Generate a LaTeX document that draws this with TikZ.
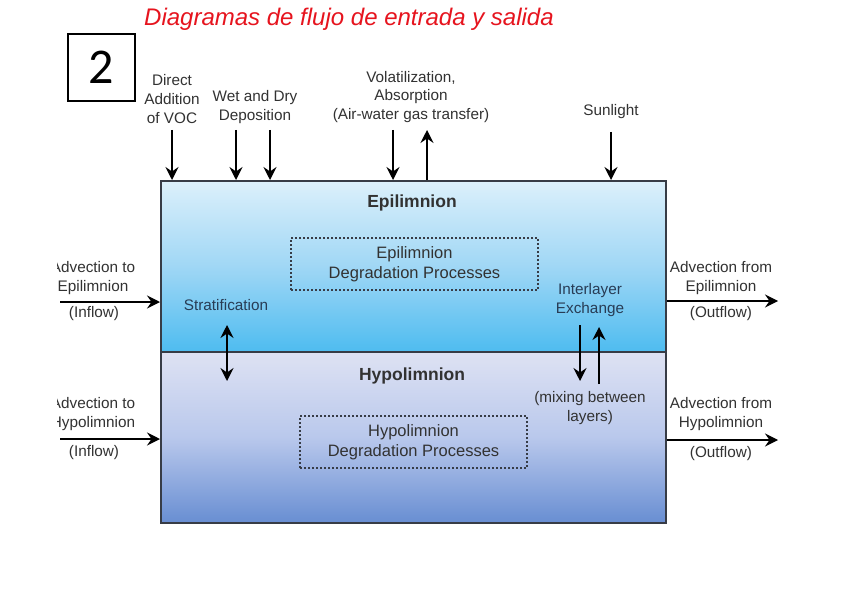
\documentclass[tikz,border=0pt]{standalone}
\usepackage{fontspec}
\setmainfont{Liberation Sans}
\newfontfamily\digitfont{Carlito}
\usetikzlibrary{arrows.meta}
\definecolor{txt}{RGB}{50,50,50}
\definecolor{bluetxt}{RGB}{40,60,85}
\definecolor{hand}{RGB}{230,20,30}
\definecolor{epitop}{RGB}{220,240,251}
\definecolor{epimid}{RGB}{160,215,245}
\definecolor{epibot}{RGB}{78,188,240}
\definecolor{hyptop}{RGB}{222,226,243}
\definecolor{hypmid}{RGB}{185,200,236}
\definecolor{hypbot}{RGB}{104,142,210}
\definecolor{edge}{RGB}{55,60,70}
\begin{document}
\begin{tikzpicture}[x=1pt,y=-1pt,
  lbl/.style={align=center,text=txt,font=\fontsize{15.3}{18.8}\selectfont,inner sep=0pt},
  inlbl/.style={lbl,text=bluetxt},
  ttl/.style={lbl,font=\fontsize{17.5}{20}\selectfont\bfseries},
  tip/.tip={Stealth[length=13pt,width=13pt,inset=4.5pt]},
  arr/.style={draw=black,line width=1.5pt,-tip},
  darr/.style={draw=black,line width=1.5pt,tip-tip},
  layer/.style={draw=edge,line width=1.5pt,inner sep=0pt,minimum width=505pt,anchor=north west},
  degbox/.style={draw=edge,dash pattern=on 2pt off 2pt,line width=1.2pt,align=center,text=txt,
    font=\fontsize{16.5}{20}\selectfont,inner sep=0pt,minimum height=52pt}
]
\useasboundingbox[fill=white] (0,0) rectangle (848,599);

% title and number box
\node[text=hand,font=\fontsize{24}{26}\selectfont\itshape,inner sep=0pt] (title) at (349,19) {Diagramas de flujo de entrada y salida};
\node[draw=black,line width=2.6pt,minimum size=67pt,inner sep=0pt,font=\digitfont\fontsize{50}{52}\selectfont] (num) at (101.5,67.5) {2};

% layers
\node[layer,minimum height=171pt,top color=epitop,bottom color=epibot,middle color=epimid] (epi) at (160,180) {};
\node[layer,minimum height=171pt,top color=hyptop,bottom color=hypbot,middle color=hypmid] (hyp) at (160,351) {};

% top labels
\node[lbl] (voc) at (172,99) {Direct\\Addition\\of VOC};
\node[lbl] (wet) at (255,107) {Wet and Dry\\Deposition};
\node[lbl] (vol) at (411,97) {Volatilization,\\Absorption\\(Air-water gas transfer)};
\node[lbl] (sun) at (611,112) {Sunlight};

% inner labels
\node[ttl] (epit) at (412,203) {Epilimnion};
\node[ttl] (hypt) at (412,376) {Hypolimnion};
\node[degbox,minimum width=247pt] (epideg) at (414.5,264) {Epilimnion\\Degradation Processes};
\node[degbox,minimum width=227pt] (hypdeg) at (413.5,442) {Hypolimnion\\Degradation Processes};
\node[inlbl] (strat) at (226,305) {Stratification};
\node[inlbl] (inter) at (590,300) {Interlayer\\Exchange};
\node[lbl] (mix) at (590,408) {(mixing between\\layers)};

% side labels
\begin{scope}
\clip (57,0) rectangle (848,599);
\node[lbl] (ein) at (93,278) {Advection to\\Epilimnion};
\node[lbl] (hin) at (93,414) {Advection to\\Hypolimnion};
\end{scope}
\node[lbl] (einf) at (94,314) {(Inflow)};
\node[lbl] (hinf) at (94,453) {(Inflow)};
\node[lbl] (eout) at (721,278) {Advection from\\Epilimnion};
\node[lbl] (eoutf) at (721,314) {(Outflow)};
\node[lbl] (hout) at (721,414) {Advection from\\Hypolimnion};
\node[lbl] (houtf) at (721,454) {(Outflow)};

% coordinates for free ends
\coordinate (t1) at (172,130);
\coordinate (t2) at (236,130);
\coordinate (t3) at (270,130);
\coordinate (t4) at (393,130);
\coordinate (t5) at (427,130);
\coordinate (t6) at (611,132);
\coordinate (inE) at (60,302);
\coordinate (inH) at (60,439);
\coordinate (outE) at (778,301);
\coordinate (outH) at (778,440);
\coordinate (s1) at (227,325);
\coordinate (s2) at (227,381);
\coordinate (x1) at (580,325);
\coordinate (x2) at (580,381);
\coordinate (y1) at (599,384);
\coordinate (y2) at (599,327);

% arrows
\draw[arr] (t1) -- (t1 |- epi.north);
\draw[arr] (t2) -- (t2 |- epi.north);
\draw[arr] (t3) -- (t3 |- epi.north);
\draw[arr] (t4) -- (t4 |- epi.north);
\draw[arr] (t5 |- epi.north) -- (t5);
\draw[arr] (t6) -- (t6 |- epi.north);
\draw[arr] (inE) -- (inE -| epi.west);
\draw[arr] (inH) -- (inH -| hyp.west);
\draw[arr] (outE -| epi.east) -- (outE);
\draw[arr] (outH -| hyp.east) -- (outH);
\draw[darr] (s1) -- (s2);
\draw[arr] (x1) -- (x2);
\draw[arr] (y1) -- (y2);
\end{tikzpicture}
\end{document}
